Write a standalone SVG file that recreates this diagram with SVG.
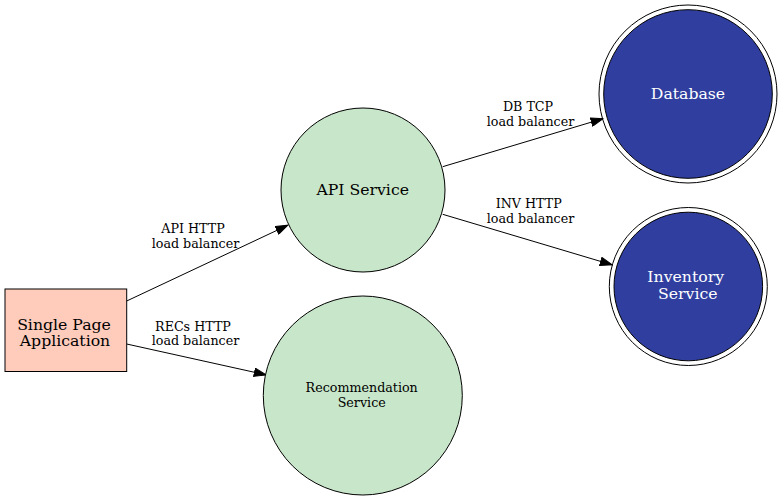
<svg xmlns="http://www.w3.org/2000/svg" width="783" height="500" viewBox="0 0 783 500">
<style>
text{font-family:"DejaVu Serif","Liberation Serif",serif;text-anchor:middle;fill:#000}
.n{font-size:15.7px}
.s{font-size:12.7px}
.w{fill:#fff}
.e{stroke:#000;stroke-width:1;fill:none}
.green{fill:#c8e6c9;stroke:#000;stroke-width:1}
.blue{fill:#303f9f;stroke:#000;stroke-width:1}
</style>
<defs>
<marker id="ah" viewBox="0 0 13 9.4" refX="13" refY="4.7" markerWidth="13" markerHeight="9.4" markerUnits="userSpaceOnUse" orient="auto">
<polygon points="0.5,0.5 12.5,4.7 0.5,8.9" fill="#000" stroke="#000" stroke-width="1"/>
</marker>
</defs>
<rect width="783" height="500" fill="#fff"/>
<g id="edges">
<line class="e" x1="126.7" y1="301" x2="288.3" y2="225" marker-end="url(#ah)"/>
<line class="e" x1="126.7" y1="344" x2="266.7" y2="375" marker-end="url(#ah)"/>
<line class="e" x1="442.7" y1="166.7" x2="603.5" y2="118.5" marker-end="url(#ah)"/>
<line class="e" x1="442.7" y1="214.3" x2="612.7" y2="265" marker-end="url(#ah)"/>
<text class="s" x="193" y="232.5">API HTTP</text>
<text class="s" x="195.5" y="247.5">load balancer</text>
<text class="s" x="193" y="330.5">RECs HTTP</text>
<text class="s" x="195.5" y="344.5">load balancer</text>
<text class="s" x="528" y="111">DB TCP</text>
<text class="s" x="530.5" y="125.5">load balancer</text>
<text class="s" x="528.7" y="208">INV HTTP</text>
<text class="s" x="530.5" y="222.5">load balancer</text>
</g>
<g id="spa">
<rect x="5" y="289" width="121.7" height="82.5" fill="#ffccbc" stroke="#000"/>
<text class="n" x="64" y="330">Single Page</text>
<text class="n" x="65" y="346">Application</text>
</g>
<g id="api">
<circle class="green" cx="363" cy="190" r="82"/>
<text class="n" x="362.7" y="195">API Service</text>
</g>
<g id="rec">
<circle class="green" cx="362.8" cy="395.5" r="99.5"/>
<text class="s" x="361.7" y="392">Recommendation</text>
<text class="s" x="361.7" y="407">Service</text>
</g>
<g id="db">
<circle cx="688" cy="94" r="89" fill="none" stroke="#000"/>
<circle class="blue" cx="688" cy="94" r="84.3"/>
<text class="n w" x="688" y="98.5">Database</text>
</g>
<g id="inv">
<circle cx="688.3" cy="286.5" r="79" fill="none" stroke="#000"/>
<circle class="blue" cx="688.3" cy="286.5" r="74.3"/>
<text class="n w" x="685.7" y="281.5">Inventory</text>
<text class="n w" x="687.8" y="298.5">Service</text>
</g>
</svg>
